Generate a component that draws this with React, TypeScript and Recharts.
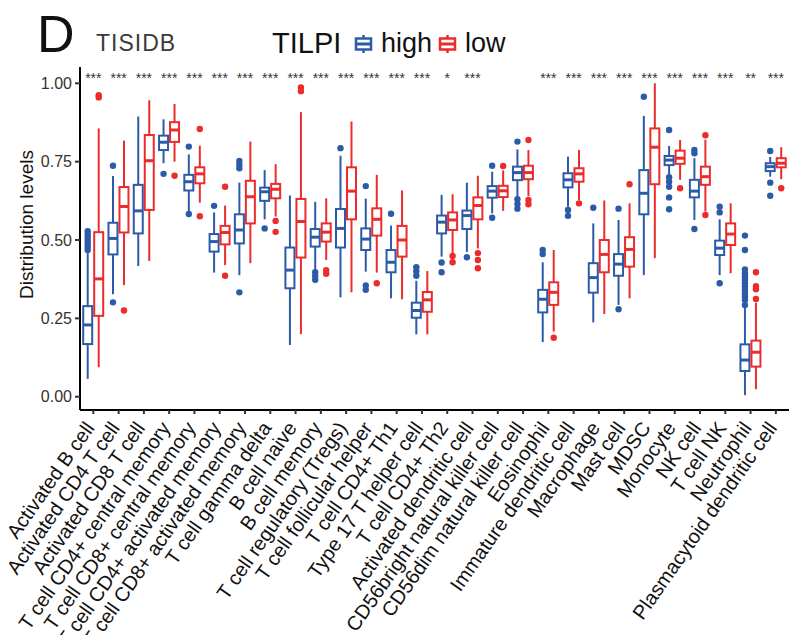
import React from 'react';
import { ComposedChart, Bar, XAxis, YAxis, ReferenceDot, Legend } from 'recharts';

const BLUE = '#2B5BA8';
const RED = '#EC2B2B';
const FONT = '"Liberation Sans", Arial, Helvetica, sans-serif';

const cells = [
  'Activated B cell', 'Activated CD4 T cell', 'Activated CD8 T cell', 'T cell CD4+ central memory',
  'T cell CD8+ central memory', 'T cell CD4+ activated memory', 'T cell CD8+ activated memory',
  'T cell gamma delta', 'B cell naive', 'B cell memory', 'T cell regulatory (Tregs)',
  'T cell follicular helper', 'T cell CD4+ Th1', 'Type 17 T helper cell', 'T cell CD4+ Th2',
  'Activated dendritic cell', 'CD56bright natural killer cell', 'CD56dim natural killer cell',
  'Eosinophil', 'Immature dendritic cell', 'Macrophage', 'Mast cell', 'MDSC', 'Monocyte',
  'NK cell', 'T cell NK', 'Neutrophil', 'Plasmacytoid dendritic cell',
];

const sigLabels = [
  '***', '***', '***', '***', '***', '***', '***', '***', '***', '***', '***', '***', '***', '***',
  '*', '***', '', '', '***', '***', '***', '***', '***', '***', '***', '***', '**', '***',
];

// [lower whisker, Q1, median, Q3, upper whisker]
const highBox = [
  [0.057, 0.168, 0.229, 0.289, 0.458],
  [0.327, 0.454, 0.505, 0.555, 0.704],
  [0.417, 0.521, 0.593, 0.676, 0.894],
  [0.745, 0.787, 0.812, 0.833, 0.885],
  [0.591, 0.658, 0.686, 0.708, 0.773],
  [0.396, 0.463, 0.495, 0.519, 0.588],
  [0.388, 0.489, 0.532, 0.582, 0.683],
  [0.566, 0.625, 0.654, 0.667, 0.723],
  [0.165, 0.346, 0.404, 0.476, 0.642],
  [0.404, 0.479, 0.509, 0.535, 0.622],
  [0.317, 0.476, 0.537, 0.599, 0.769],
  [0.399, 0.468, 0.503, 0.537, 0.632],
  [0.314, 0.397, 0.429, 0.468, 0.546],
  [0.199, 0.252, 0.275, 0.300, 0.370],
  [0.447, 0.521, 0.557, 0.578, 0.644],
  [0.462, 0.535, 0.578, 0.594, 0.683],
  [0.585, 0.635, 0.656, 0.672, 0.718],
  [0.638, 0.691, 0.715, 0.734, 0.789],
  [0.174, 0.269, 0.311, 0.341, 0.429],
  [0.606, 0.668, 0.692, 0.713, 0.766],
  [0.237, 0.332, 0.380, 0.426, 0.553],
  [0.293, 0.386, 0.423, 0.455, 0.564],
  [0.388, 0.582, 0.649, 0.723, 0.896],
  [0.708, 0.739, 0.755, 0.768, 0.800],
  [0.564, 0.636, 0.656, 0.692, 0.761],
  [0.388, 0.452, 0.474, 0.498, 0.566],
  [0.005, 0.082, 0.117, 0.167, 0.287],
  [0.702, 0.720, 0.734, 0.745, 0.765],
];

const highOutliers = [
  [0.468, 0.478, 0.488, 0.498, 0.508, 0.518, 0.528],
  [0.301, 0.737],
  [],
  [0.711],
  [0.583, 0.798],
  [0.609],
  [0.333, 0.729, 0.740, 0.752],
  [0.537],
  [],
  [0.373, 0.385, 0.397],
  [0.793],
  [0.341, 0.355, 0.672],
  [0.584],
  [0.386, 0.400, 0.413],
  [0.397, 0.428],
  [0.445],
  [0.571, 0.737],
  [0.600, 0.615, 0.630, 0.814],
  [0.455, 0.468],
  [0.577, 0.596],
  [0.603],
  [0.279, 0.600],
  [0.957],
  [0.598, 0.636, 0.670, 0.686, 0.700, 0.851],
  [0.535, 0.777, 0.787],
  [0.362, 0.588, 0.606],
  [0.293, 0.309, 0.320, 0.330, 0.341, 0.352, 0.362, 0.373, 0.383, 0.394, 0.406, 0.468, 0.514],
  [0.641, 0.683, 0.784],
];

const lowBox = [
  [0.094, 0.258, 0.376, 0.525, 0.856],
  [0.356, 0.524, 0.607, 0.669, 0.817],
  [0.433, 0.596, 0.753, 0.835, 0.946],
  [0.750, 0.813, 0.851, 0.876, 0.934],
  [0.619, 0.681, 0.711, 0.732, 0.801],
  [0.420, 0.486, 0.524, 0.545, 0.610],
  [0.426, 0.553, 0.638, 0.689, 0.814],
  [0.575, 0.633, 0.662, 0.679, 0.742],
  [0.200, 0.444, 0.559, 0.631, 0.908],
  [0.436, 0.495, 0.525, 0.553, 0.633],
  [0.333, 0.566, 0.656, 0.732, 0.878],
  [0.396, 0.514, 0.566, 0.601, 0.708],
  [0.311, 0.447, 0.500, 0.545, 0.658],
  [0.199, 0.271, 0.309, 0.334, 0.401],
  [0.458, 0.532, 0.564, 0.588, 0.646],
  [0.473, 0.566, 0.610, 0.636, 0.705],
  [0.593, 0.637, 0.657, 0.673, 0.722],
  [0.640, 0.694, 0.715, 0.737, 0.787],
  [0.208, 0.293, 0.333, 0.365, 0.468],
  [0.628, 0.686, 0.711, 0.729, 0.787],
  [0.264, 0.397, 0.454, 0.500, 0.626],
  [0.314, 0.415, 0.470, 0.509, 0.617],
  [0.442, 0.678, 0.796, 0.856, 1.000],
  [0.692, 0.743, 0.761, 0.785, 0.819],
  [0.591, 0.676, 0.702, 0.734, 0.820],
  [0.394, 0.484, 0.519, 0.553, 0.617],
  [0.024, 0.096, 0.142, 0.179, 0.300],
  [0.694, 0.732, 0.745, 0.761, 0.796],
];

const lowOutliers = [
  [0.955, 0.962],
  [0.275],
  [],
  [0.705],
  [0.576, 0.854],
  [0.386, 0.670],
  [],
  [0.526, 0.561],
  [0.975, 0.987],
  [0.392, 0.404],
  [],
  [0.362],
  [],
  [],
  [0.429, 0.449],
  [0.410, 0.436, 0.458],
  [0.736],
  [0.614, 0.628, 0.819],
  [0.188],
  [0.617],
  [],
  [0.678],
  [],
  [0.665],
  [0.580, 0.834],
  [],
  [0.312, 0.343, 0.353, 0.397],
  [0.665],
];

const yTicks = [0, 0.25, 0.5, 0.75, 1];
const SIG_Y = 1.018;

const rows = cells.map((name, i) => ({
  name,
  idx: i,
  high: [highBox[i][0], highBox[i][4]],
  low: [lowBox[i][0], lowBox[i][4]],
}));

function BoxShape(props: any) {
  const { x, y, width, height, payload, stats, outliers, color } = props;
  const s = stats[payload.idx];
  const out = outliers[payload.idx];
  const lo = s[0];
  const hi = s[4];
  // bar spans [lower whisker, upper whisker] so the bar rect gives the y scale
  const toPx = (v: number) => y + ((hi - v) / (hi - lo)) * height;
  const cx = x + width / 2;
  const bx = x + 0.5;
  const bw = width - 1;
  return (
    <g>
      {out.map((v: number, k: number) => (
        <circle key={k} cx={cx} cy={toPx(v)} r={3.2} fill={color} />
      ))}
      <line x1={cx} x2={cx} y1={toPx(s[4])} y2={toPx(s[0])} stroke={color} strokeWidth={2} />
      <rect x={bx} y={toPx(s[3])} width={bw} height={toPx(s[1]) - toPx(s[3])} fill="#fff" stroke={color} strokeWidth={2} />
      <line x1={bx} x2={bx + bw} y1={toPx(s[2])} y2={toPx(s[2])} stroke={color} strokeWidth={3} />
    </g>
  );
}

function CellTick({ x, y, payload }: any) {
  return (
    <text
      transform={`translate(${x + 2},${y + 12}) rotate(-55)`}
      textAnchor="end"
      fontSize={20}
      fontFamily={FONT}
      fill="#111"
    >
      {payload.value}
    </text>
  );
}

function KeyGlyph({ x, color }: { x: number; color: string }) {
  return (
    <g>
      <line x1={x + 9.5} x2={x + 9.5} y1={35} y2={53} stroke={color} strokeWidth={2.5} />
      <rect x={x + 2} y={38.5} width={15} height={11} fill="#fff" stroke={color} strokeWidth={2.5} />
      <line x1={x + 2} x2={x + 17} y1={44} y2={44} stroke={color} strokeWidth={3} />
    </g>
  );
}

const keyX = [354, 438];

function Header({ payload }: any) {
  const items = payload || [];
  return (
    <svg width={790} height={62} style={{ display: 'block' }}>
      <text x={37} y={52} fontSize={52} fontFamily={FONT} fill="#111">D</text>
      <text x={96} y={51} fontSize={23} letterSpacing={1} fontFamily={FONT} fill="#3a3a3a">TISIDB</text>
      <text x={272} y={53} fontSize={29} fontFamily={FONT} fill="#111">TILPI</text>
      {items.map((it: any, i: number) => (
        <g key={it.value}>
          <KeyGlyph x={keyX[i]} color={it.color} />
          <text x={keyX[i] + 27} y={52} fontSize={27} fontFamily={FONT} fill="#111">{it.value}</text>
        </g>
      ))}
    </svg>
  );
}

function YTitle(props: any) {
  const vb = props.viewBox || { x: 0, y: 67, width: 80, height: 343 };
  const cx = vb.x + 26;
  const cy = vb.y + vb.height / 2 - 14;
  return (
    <text
      x={cx}
      y={cy}
      transform={`rotate(-90 ${cx} ${cy})`}
      textAnchor="middle"
      dominantBaseline="central"
      fontSize={19}
      fontFamily={FONT}
      fill="#111"
    >
      Distribution levels
    </text>
  );
}

export default function App() {
  return (
    <div style={{ position: 'absolute', left: 0, top: 0, width: 790, height: 635, background: '#fff' }}>
      <ComposedChart
        width={790}
        height={635}
        data={rows}
        margin={{ top: 67, right: 1, bottom: 0, left: 0 }}
        barGap={1}
      >
        <XAxis
          dataKey="name"
          interval={0}
          height={225}
          padding={{ left: 0.7, right: 0.5 }}
          tick={<CellTick />}
          tickSize={4}
          axisLine={{ stroke: '#000', strokeWidth: 2 }}
          tickLine={{ stroke: '#333', strokeWidth: 2 }}
        />
        <YAxis
          width={80}
          domain={[-0.0424, 1.052]}
          allowDataOverflow
          ticks={yTicks}
          tickFormatter={(v: number) => v.toFixed(2)}
          tickSize={5}
          tickMargin={3}
          tick={{ fontSize: 16, fill: '#333', fontFamily: FONT }}
          axisLine={{ stroke: '#000', strokeWidth: 2 }}
          tickLine={{ stroke: '#333', strokeWidth: 2 }}
          label={(p: any) => <YTitle {...p} />}
        />
        <Legend
          layout="horizontal"
          verticalAlign="middle"
          align="center"
          wrapperStyle={{ position: 'absolute', top: 0, left: 0, width: 790, height: 62 }}
          content={(p: any) => <Header payload={p.payload} />}
        />
        <Bar
          dataKey="high"
          name="high"
          fill={BLUE}
          barSize={10}
          isAnimationActive={false}
          shape={(p: any) => <BoxShape {...p} stats={highBox} outliers={highOutliers} color={BLUE} />}
        />
        <Bar
          dataKey="low"
          name="low"
          fill={RED}
          barSize={10}
          isAnimationActive={false}
          shape={(p: any) => <BoxShape {...p} stats={lowBox} outliers={lowOutliers} color={RED} />}
        />
        {cells.map((c, i) =>
          sigLabels[i] ? (
            <ReferenceDot
              key={c}
              x={c}
              y={SIG_Y}
              r={1}
              fill="none"
              stroke="none"
              label={{ value: sigLabels[i], position: 'center', fontSize: 14, fill: '#333', fontFamily: FONT }}
            />
          ) : null
        )}
      </ComposedChart>
    </div>
  );
}
